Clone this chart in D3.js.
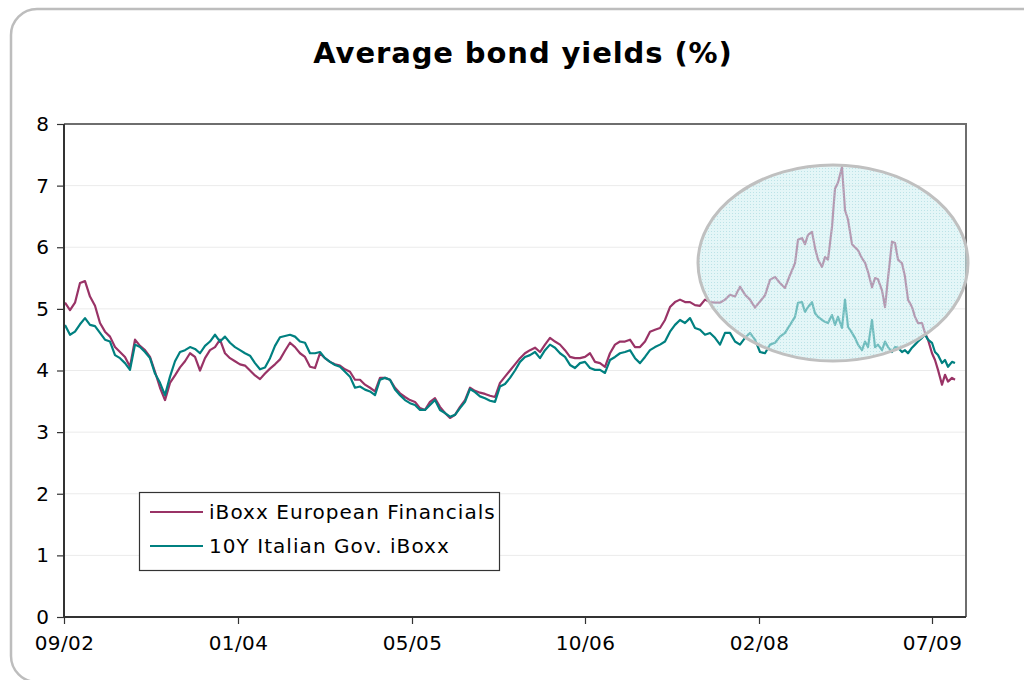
<!DOCTYPE html>
<html><head><meta charset="utf-8">
<script src="https://cdn.jsdelivr.net/npm/d3@7"></script>
<style>body{margin:0;background:#fff}svg{display:block}</style>
</head><body>
<svg id="c" width="1024" height="680"></svg>
<script>
// Observation index (trading days since 09/2002)
const obs = [
2,12,22,32,42,52,62,72,82,92,
102,112,122,132,142,152,162,172,182,192,
202,212,222,232,242,252,262,272,282,292,
302,312,322,332,342,352,362,372,382,392,
402,412,422,432,442,452,462,472,482,492,
502,512,522,532,542,552,562,572,582,592,
602,612,622,632,642,652,662,672,682,692,
702,712,722,732,742,752,762,772,782,792,
802,812,822,832,842,852,862,872,882,892,
902,912,922,932,942,952,962,972,982,992,
1002,1012,1022,1032,1042,1052,1062,1072,1082,1092,
1102,1112,1122,1132,1142,1152,1162,1172,1182,1192,
1202,1212,1222,1232,1242,1252,1262,1272,1282,1292,
1302,1312,1322,1332,1342,1352,1362,1372,1382,
1392,1402,1412,1422,1432,1442,1452,1462,1468,1476,
1482,1488,1496,1502,1508,1516,1522,1528,1536,1542,
1548,1556,1562,1568,1576,1582,1588,1596,1602,1608,
1616,1622,1628,1636,1642,1648,1656,1662,1668,1676,
1682,1688,1696,1702,1708,1716,1722,1728,1736,1742,
1748,1756,1762,1768,1776,1782];

const financials = [
5.10,4.98,5.10,5.42,5.45,5.20,5.05,4.77,4.63,4.55,
4.38,4.30,4.22,4.06,4.50,4.40,4.33,4.22,3.98,3.72,
3.52,3.80,3.92,4.05,4.15,4.28,4.22,4.00,4.20,4.33,
4.38,4.50,4.28,4.20,4.15,4.10,4.08,4.00,3.92,3.86,
3.95,4.03,4.10,4.18,4.32,4.45,4.38,4.28,4.22,4.06,
4.04,4.28,4.20,4.14,4.10,4.08,4.02,3.98,3.85,3.85,
3.77,3.72,3.66,3.88,3.88,3.85,3.72,3.63,3.57,3.52,
3.49,3.39,3.36,3.49,3.55,3.41,3.31,3.23,3.28,3.41,
3.52,3.72,3.67,3.64,3.62,3.59,3.57,3.80,3.90,4.00,
4.10,4.20,4.28,4.33,4.37,4.30,4.42,4.53,4.47,4.42,
4.33,4.22,4.20,4.20,4.22,4.28,4.14,4.12,4.06,4.28,
4.42,4.47,4.47,4.50,4.38,4.38,4.47,4.63,4.66,4.69,
4.82,5.03,5.11,5.15,5.11,5.11,5.06,5.05,5.15,5.11,
5.10,5.10,5.15,5.23,5.20,5.36,5.23,5.15,5.02,
5.12,5.22,5.47,5.52,5.42,5.34,5.55,5.74,6.12,6.15,
6.05,6.20,6.25,5.99,5.80,5.68,5.84,5.80,6.33,6.95,
7.05,7.30,6.60,6.45,6.05,6.00,5.95,5.82,5.75,5.60,
5.35,5.50,5.48,5.30,5.03,5.50,6.09,6.07,5.80,5.74,
5.52,5.15,5.03,4.87,4.77,4.77,4.61,4.50,4.28,4.17,
4.01,3.77,3.93,3.82,3.88,3.85];

const italianGov = [
4.74,4.58,4.63,4.75,4.85,4.74,4.72,4.61,4.50,4.47,
4.25,4.20,4.12,4.01,4.42,4.38,4.30,4.20,3.95,3.80,
3.60,3.90,4.15,4.30,4.33,4.38,4.35,4.28,4.40,4.47,
4.58,4.47,4.55,4.45,4.38,4.33,4.28,4.24,4.12,4.02,
4.05,4.20,4.40,4.54,4.56,4.58,4.55,4.47,4.45,4.28,
4.28,4.30,4.20,4.14,4.09,4.06,3.98,3.90,3.72,3.74,
3.69,3.66,3.60,3.85,3.88,3.85,3.69,3.60,3.52,3.47,
3.44,3.36,3.36,3.44,3.52,3.36,3.31,3.25,3.28,3.39,
3.49,3.70,3.65,3.58,3.55,3.51,3.49,3.74,3.78,3.88,
4.00,4.14,4.22,4.25,4.30,4.20,4.33,4.42,4.37,4.28,
4.22,4.09,4.04,4.12,4.14,4.04,4.01,4.01,3.96,4.17,
4.22,4.28,4.30,4.33,4.20,4.12,4.22,4.33,4.38,4.42,
4.47,4.63,4.74,4.82,4.77,4.85,4.69,4.66,4.58,4.61,
4.53,4.42,4.61,4.61,4.47,4.42,4.53,4.61,4.50,
4.30,4.28,4.42,4.45,4.55,4.61,4.74,4.87,5.10,5.11,
4.95,5.03,5.11,4.93,4.87,4.82,4.79,4.77,4.90,4.74,
4.87,4.69,5.15,4.71,4.61,4.53,4.42,4.33,4.47,4.38,
4.82,4.38,4.42,4.33,4.47,4.38,4.30,4.38,4.37,4.30,
4.33,4.28,4.37,4.42,4.47,4.53,4.58,4.50,4.45,4.30,
4.25,4.12,4.17,4.06,4.14,4.12];

const seriesNames = ["iBoxx European Financials", "10Y Italian Gov. iBoxx"];
const seriesColors = ["#993366", "#008080"];
const xTickObs = [0, 348, 696, 1042, 1390, 1736];
const xTickLabels = ["09/02", "01/04", "05/05", "10/06", "02/08", "07/09"];
const yTicks = [0,1,2,3,4,5,6,7,8];
const titleText = "Average bond yields (%)";

const svg = d3.select("#c");
const FONT = "'DejaVu Sans', Verdana, sans-serif";
const L = 64, R = 966, T = 124, B = 617;

// outer rounded frame
svg.append("rect").attr("x",11).attr("y",9).attr("width",1040).attr("height",673)
  .attr("rx",26).attr("fill","#fff").attr("stroke","#bdbdbd").attr("stroke-width",2.5);

const x = d3.scaleLinear().domain([0, 1804]).range([L, R]);
const y = d3.scaleLinear().domain([0, 8]).range([B, T]);

// gridlines
svg.append("g").selectAll("line").data(yTicks.slice(1)).join("line")
  .attr("x1",L).attr("x2",R).attr("y1",d=>y(d)).attr("y2",d=>y(d))
  .attr("stroke","#ebebeb").attr("stroke-width",1);

// plot border top/right
svg.append("path").attr("d",`M${L},${T}H${R}V${B}`).attr("fill","none")
  .attr("stroke","#6e6e6e").attr("stroke-width",2);

// lines
const lineGen = d3.line().x((d,i)=>x(obs[i])).y(d=>y(d));
[financials, italianGov].forEach((s,k)=>{
  svg.append("path").datum(s).attr("d",lineGen).attr("fill","none")
    .attr("stroke",seriesColors[k]).attr("stroke-width",2.2).attr("stroke-linejoin","round");
});

// highlight ellipse
const defs = svg.append("defs");
const pat = defs.append("pattern").attr("id","dots").attr("width",3).attr("height",3)
  .attr("patternUnits","userSpaceOnUse");
pat.append("rect").attr("width",3).attr("height",3).attr("fill","rgba(205,238,240,0.55)");
pat.append("rect").attr("width",1).attr("height",1).attr("fill","rgba(150,210,215,0.5)");
svg.append("ellipse").attr("cx",833).attr("cy",263).attr("rx",135).attr("ry",98)
  .attr("fill","url(#dots)").attr("stroke","#c0c0c0").attr("stroke-width",3);

// axes
const yAxis = d3.axisLeft(y).tickValues(yTicks).tickSize(7).tickPadding(8).tickFormat(d3.format("d"));
const gy = svg.append("g").attr("transform",`translate(${L},0)`).call(yAxis);
const xAxis = d3.axisBottom(x).tickValues(xTickObs).tickSize(7).tickPadding(12)
  .tickFormat((d,i)=>xTickLabels[i]);
const gx = svg.append("g").attr("transform",`translate(0,${B})`).call(xAxis);
[gx,gy].forEach(g=>{
  g.select(".domain").attr("stroke","#333").attr("stroke-width",2);
  g.selectAll(".tick line").attr("stroke","#333").attr("stroke-width",1.2);
  g.selectAll("text").attr("font-family",FONT).attr("font-size",20).attr("fill","#000");
});
gx.select(".domain").attr("d",`M${L},0H${R}`);
gy.select(".domain").attr("d",`M0,${B}V${T}`);
gx.selectAll("text").attr("letter-spacing",0.4);

// title
svg.append("text").attr("x",523).attr("y",63).attr("text-anchor","middle")
  .attr("font-family",FONT).attr("font-weight","bold").attr("font-size",29)
  .attr("letter-spacing",0.9).text(titleText);

// legend
const lg = svg.append("g");
lg.append("rect").attr("x",139.5).attr("y",492.5).attr("width",360).attr("height",78)
  .attr("fill","#fff").attr("stroke","#333").attr("stroke-width",1.2);
seriesNames.forEach((n,k)=>{
  const yy = 512 + k*34;
  lg.append("line").attr("x1",150).attr("x2",203).attr("y1",yy).attr("y2",yy)
    .attr("stroke",seriesColors[k]).attr("stroke-width",2);
  lg.append("text").attr("x",209).attr("y",yy+7).attr("font-family",FONT)
    .attr("font-size",20).attr("letter-spacing",1.05).text(n);
});
</script>
</body></html>
